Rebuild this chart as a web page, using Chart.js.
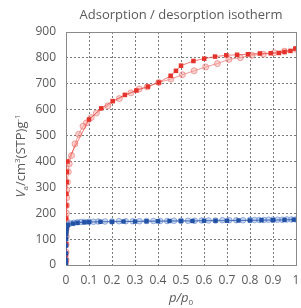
<!DOCTYPE html>
<html>
<head>
<meta charset="utf-8">
<script src="https://cdn.jsdelivr.net/npm/chart.js@4.4.1/dist/chart.umd.min.js"></script>
<style>
  html, body { margin: 0; padding: 0; background: #fff; }
  #wrap { width: 301px; height: 308px; }
</style>
</head>
<body>
<div id="wrap"><canvas id="chart" width="301" height="308"></canvas></div>
<script>
(function() {
  'use strict';

  var chartTitle = 'Adsorption / desorption isotherm';
  var xTicks = [0, 0.1, 0.2, 0.3, 0.4, 0.5, 0.6, 0.7, 0.8, 0.9, 1];
  var yTicks = [0, 100, 200, 300, 400, 500, 600, 700, 800, 900];

  // sample 1 (red) - adsorption branch
  var redAdsX = [0.00005, 0.0001, 0.0002, 0.0004, 0.0007, 0.001, 0.0015, 0.002, 0.003, 0.004, 0.006,
    0.1, 0.153, 0.203, 0.256, 0.306, 0.356, 0.403, 0.455, 0.478, 0.5, 0.554, 0.601, 0.648,
    0.697, 0.744, 0.791, 0.843, 0.89, 0.926, 0.95, 0.976, 0.997];
  var redAdsY = [3, 15, 40, 80, 130, 180, 230, 275, 320, 360, 400,
    562, 605, 633, 657, 674, 689, 705, 731, 750, 770, 788, 797, 805,
    810, 812, 814, 817, 818, 819, 823, 827, 836];

  // sample 1 (red) - desorption branch
  var redDesX = [1.0, 0.95, 0.905, 0.858, 0.808, 0.758, 0.708, 0.658, 0.607, 0.557, 0.506, 0.456,
    0.403, 0.353, 0.318, 0.282, 0.232, 0.182, 0.132, 0.11, 0.089, 0.074, 0.055, 0.039, 0.024,
    0.014, 0.01, 0.006, 0.004, 0.003, 0.0025, 0.002, 0.0015, 0.001, 0.0007, 0.0005, 0.0003, 0.0001];
  var redDesY = [833, 826, 820, 814, 810, 801, 794, 778, 765, 750, 735, 718,
    705, 688, 680, 665, 643, 615, 587, 570, 549, 536, 505, 468, 423,
    391, 360, 320, 290, 260, 230, 200, 170, 140, 110, 80, 50, 20];

  // sample 2 (blue) - adsorption branch
  var blueAdsX = [0.00005, 0.0001, 0.0002, 0.0004, 0.0007, 0.001, 0.0015, 0.002, 0.003, 0.005, 0.008,
    0.03, 0.05, 0.08, 0.1, 0.15, 0.2, 0.25, 0.3, 0.35, 0.4, 0.45, 0.5, 0.55, 0.6, 0.65,
    0.7, 0.75, 0.8, 0.85, 0.9, 0.95, 0.99];
  var blueAdsY = [5, 20, 45, 75, 100, 118, 130, 138, 145, 151, 155,
    160, 163, 165, 166, 167, 167, 168, 168, 169, 169, 170, 170, 170, 171, 171,
    171, 172, 172, 173, 173, 174, 175];

  // sample 2 (blue) - desorption branch
  var blueDesX = [1.0, 0.98, 0.96, 0.94, 0.92, 0.9, 0.88, 0.86, 0.84, 0.82, 0.8, 0.77, 0.74,
    0.71, 0.68, 0.65, 0.62, 0.59, 0.56, 0.53, 0.5, 0.47, 0.44, 0.41, 0.38, 0.35, 0.32,
    0.29, 0.26, 0.23, 0.2, 0.17, 0.14, 0.12, 0.1, 0.08, 0.065, 0.05, 0.035, 0.02, 0.01];
  var blueDesY = [176, 176, 176, 175, 175, 175, 175, 174, 174, 174, 174, 173, 173,
    173, 173, 172, 172, 172, 171, 171, 171, 171, 170, 170, 170, 170, 169,
    169, 169, 169, 168, 168, 168, 167, 167, 167, 166, 165, 163, 161, 157];

  function pairs(xs, ys) {
    return xs.map(function(x, i) { return { x: x, y: ys[i] }; });
  }

  var textColor = '#595959';
  var fontFamily = '"Open Sans", "Noto Sans", sans-serif';

  // titles with sub/superscripts + plot frame
  var decorPlugin = {
    id: 'decor',
    beforeDatasetsDraw: function(chart) {
      var a = chart.chartArea;
      var ctx = chart.ctx;
      ctx.save();
      ctx.strokeStyle = '#8a8a8a';
      ctx.lineWidth = 1;
      ctx.strokeRect(Math.round(a.left) + 0.5, Math.round(a.top) + 0.5,
        Math.round(a.right - a.left), Math.round(a.bottom - a.top));
      ctx.restore();
    },
    afterDraw: function(chart) {
      var a = chart.chartArea;
      var ctx = chart.ctx;
      var cx = (a.left + a.right) / 2;
      ctx.save();
      ctx.fillStyle = textColor;
      ctx.textBaseline = 'alphabetic';

      ctx.font = '13px ' + fontFamily;
      ctx.textAlign = 'center';
      ctx.fillText(chartTitle, cx, 19);

      ctx.textAlign = 'left';
      drawRuns(ctx, [
        { t: 'p/p', f: 'italic 13px ' + fontFamily, dy: 0 },
        { t: '0', f: '8px ' + fontFamily, dy: 3 }
      ], cx, 302);

      ctx.translate(25, 156);
      ctx.rotate(-Math.PI / 2);
      drawRuns(ctx, [
        { t: 'V', f: 'italic 13px ' + fontFamily, dy: 0 },
        { t: 'a', f: '8px ' + fontFamily, dy: 3 },
        { t: '/cm', f: '13px ' + fontFamily, dy: 0 },
        { t: '3', f: '8px ' + fontFamily, dy: -5 },
        { t: '(STP)g', f: '13px ' + fontFamily, dy: 0 },
        { t: '-1', f: '8px ' + fontFamily, dy: -5 }
      ], 0, 0);
      ctx.restore();
    }
  };

  function drawRuns(ctx, runs, cx, y) {
    var total = 0;
    runs.forEach(function(r) { ctx.font = r.f; r.w = ctx.measureText(r.t).width; total += r.w; });
    var x = cx - total / 2;
    runs.forEach(function(r) {
      ctx.font = r.f;
      ctx.fillText(r.t, x, y + r.dy);
      x += r.w;
    });
  }

  var ctx = document.getElementById('chart').getContext('2d');
  new Chart(ctx, {
    type: 'scatter',
    data: {
      datasets: [
        {
          label: 'Sample 2 adsorption',
          data: pairs(blueAdsX, blueAdsY),
          showLine: true,
          borderColor: 'rgba(40, 80, 170, 0.7)',
          borderWidth: 1,
          pointStyle: 'rect',
          pointRadius: 3.1,
          pointBackgroundColor: '#2352a5',
          pointBorderColor: '#2352a5',
          pointBorderWidth: 0
        },
        {
          label: 'Sample 2 desorption',
          data: pairs(blueDesX, blueDesY),
          showLine: true,
          borderColor: 'rgba(90, 130, 200, 0.6)',
          borderWidth: 1,
          pointStyle: 'circle',
          pointRadius: 2.8,
          pointBackgroundColor: 'rgba(130, 165, 220, 0.4)',
          pointBorderColor: 'rgba(90, 130, 205, 0.6)',
          pointBorderWidth: 1
        },
        {
          label: 'Sample 1 adsorption',
          data: pairs(redAdsX, redAdsY),
          showLine: true,
          borderColor: 'rgba(232, 70, 60, 0.7)',
          borderWidth: 1,
          pointStyle: 'rect',
          pointRadius: 3.2,
          pointBackgroundColor: '#e5322b',
          pointBorderColor: '#e5322b',
          pointBorderWidth: 0
        },
        {
          label: 'Sample 1 desorption',
          data: pairs(redDesX, redDesY),
          showLine: true,
          borderColor: 'rgba(238, 120, 115, 0.75)',
          borderWidth: 1,
          pointStyle: 'circle',
          pointRadius: 3,
          pointBackgroundColor: 'rgba(244, 150, 145, 0.4)',
          pointBorderColor: 'rgba(234, 110, 105, 0.6)',
          pointBorderWidth: 1
        }
      ]
    },
    options: {
      responsive: false,
      animation: false,
      events: [],
      layout: { padding: { left: 0, right: 2, top: 32, bottom: 0 } },
      plugins: {
        legend: { display: false },
        title: { display: false },
        tooltip: { enabled: false }
      },
      scales: {
        x: {
          type: 'linear',
          min: 0,
          max: 1,
          afterBuildTicks: function(scale) {
            scale.ticks = xTicks.map(function(v) { return { value: v }; });
          },
          afterFit: function(scale) {
            scale.height = 43;
            scale.paddingLeft = 0;
            scale.paddingRight = 0;
          },
          border: { display: false, dash: [2, 2] },
          grid: {
            color: '#7a7a7a',
            lineWidth: 1,
            drawTicks: false
          },
          ticks: {
            color: textColor,
            font: { family: fontFamily, size: 12 },
            padding: 8,
            maxRotation: 0,
            autoSkip: false,
            callback: function(v) { return String(Math.round(v * 10) / 10); }
          }
        },
        y: {
          min: 0,
          max: 900,
          afterBuildTicks: function(scale) {
            scale.ticks = yTicks.map(function(v) { return { value: v }; });
          },
          afterFit: function(scale) {
            scale.width = 66;
          },
          border: { display: false, dash: [2, 2] },
          grid: {
            color: '#7a7a7a',
            lineWidth: 1,
            drawTicks: false
          },
          ticks: {
            color: textColor,
            font: { family: fontFamily, size: 12 },
            padding: 10,
            autoSkip: false
          }
        }
      }
    },
    plugins: [decorPlugin]
  });
})();
</script>
</body>
</html>
